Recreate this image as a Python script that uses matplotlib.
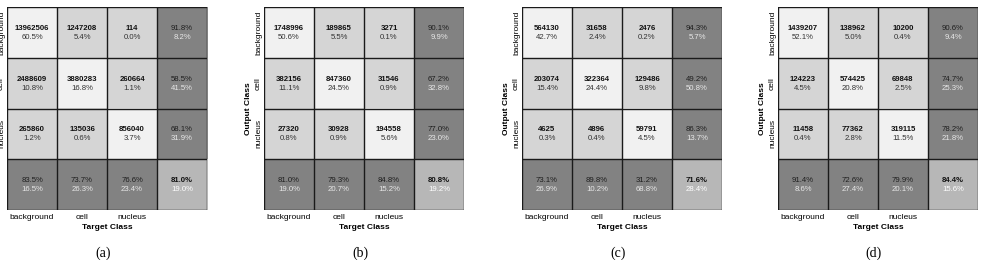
import matplotlib
matplotlib.use("Agg")
import matplotlib.pyplot as plt
import numpy as np

classes = ["background", "cell", "nucleus"]
captions = ["(a)", "(b)", "(c)", "(d)"]

counts_a = [[13962506, 1247208, 114], [2488609, 3880283, 260664], [265860, 135036, 856040]]
counts_b = [[1748996, 189865, 3271], [382156, 847360, 31546], [27320, 30928, 194558]]
counts_c = [[564130, 31658, 2476], [203074, 322364, 129486], [4625, 4896, 59791]]
counts_d = [[1439207, 138962, 10200], [124223, 574425, 69848], [11458, 77362, 319115]]

pct_a = [[60.5, 5.4, 0.0], [10.8, 16.8, 1.1], [1.2, 0.6, 3.7]]
pct_b = [[50.6, 5.5, 0.1], [11.1, 24.5, 0.9], [0.8, 0.9, 5.6]]
pct_c = [[42.7, 2.4, 0.2], [15.4, 24.4, 9.8], [0.3, 0.4, 4.5]]
pct_d = [[52.1, 5.0, 0.4], [4.5, 20.8, 2.5], [0.4, 2.8, 11.5]]

row_acc_a = [91.8, 58.5, 68.1]
row_acc_b = [90.1, 67.2, 77.0]
row_acc_c = [94.3, 49.2, 86.3]
row_acc_d = [90.6, 74.7, 78.2]

col_acc_a = [83.5, 73.7, 76.6]
col_acc_b = [81.0, 79.3, 84.8]
col_acc_c = [73.1, 89.8, 31.2]
col_acc_d = [91.4, 72.6, 79.9]

overall = [81.0, 80.8, 71.6, 84.4]

panels = [
    (counts_a, pct_a, row_acc_a, col_acc_a),
    (counts_b, pct_b, row_acc_b, col_acc_b),
    (counts_c, pct_c, row_acc_c, col_acc_c),
    (counts_d, pct_d, row_acc_d, col_acc_d),
]

W, H = 982, 260
grid_lefts = [7, 264, 522, 778]
grid_w = 200
grid_top, grid_bottom = 7, 210

DIAG = "#f1f1f1"
OFF = "#d5d5d5"
SUM = "#828282"
CORNER = "#b7b7b7"

plt.rcParams["font.family"] = ["Liberation Sans", "DejaVu Sans"]

fig = plt.figure(figsize=(W / 100, H / 100), dpi=100)


def draw_panel(ax, counts, pct, row_acc, col_acc, total, caption):
    n = len(counts)
    m = n + 1
    img = np.zeros((m, m, 3))
    for i in range(m):
        for j in range(m):
            if i == n and j == n:
                c = CORNER
            elif i == n or j == n:
                c = SUM
            elif i == j:
                c = DIAG
            else:
                c = OFF
            img[i, j] = matplotlib.colors.to_rgb(c)
    ax.imshow(img, extent=(0, m, m, 0), interpolation="nearest", aspect="auto")
    for k in range(m + 1):
        ax.axhline(k, color="#1a1a1a", lw=1.0)
        ax.axvline(k, color="#1a1a1a", lw=1.0)

    fs = 5.6
    for i in range(n):
        for j in range(n):
            ax.text(j + 0.5, i + 0.42, str(counts[i][j]), ha="center", va="center",
                    fontsize=fs, fontweight="bold", color="#111111")
            ax.text(j + 0.5, i + 0.6, f"{pct[i][j]:.1f}%", ha="center", va="center",
                    fontsize=fs, color="#333333")
    for i in range(n):
        ax.text(n + 0.5, i + 0.42, f"{row_acc[i]:.1f}%", ha="center", va="center",
                fontsize=fs, color="#1e1e1e")
        ax.text(n + 0.5, i + 0.6, f"{100 - row_acc[i]:.1f}%", ha="center", va="center",
                fontsize=fs, color="#e8e8e8")
    for j in range(n):
        ax.text(j + 0.5, n + 0.42, f"{col_acc[j]:.1f}%", ha="center", va="center",
                fontsize=fs, color="#1e1e1e")
        ax.text(j + 0.5, n + 0.6, f"{100 - col_acc[j]:.1f}%", ha="center", va="center",
                fontsize=fs, color="#e8e8e8")
    ax.text(n + 0.5, n + 0.42, f"{total:.1f}%", ha="center", va="center",
            fontsize=fs, fontweight="bold", color="#111111")
    ax.text(n + 0.5, n + 0.6, f"{100 - total:.1f}%", ha="center", va="center",
            fontsize=fs, color="#ffffff")

    ax.set_xlim(0, m)
    ax.set_ylim(m, 0)
    ax.set_xticks(np.arange(n) + 0.5)
    ax.set_xticklabels(classes, fontsize=6)
    ax.set_yticks(np.arange(n) + 0.5)
    ax.set_yticklabels(classes, fontsize=6, rotation=90, va="center")
    ax.tick_params(axis="x", length=0, pad=3)
    ax.tick_params(axis="y", length=0, pad=1.5)
    for s in ax.spines.values():
        s.set_visible(False)
    ax.set_xlabel("Target Class", fontsize=6, fontweight="bold", labelpad=2)
    ax.set_ylabel("Output Class", fontsize=6, fontweight="bold", labelpad=2)
    ax.text(0.48, -0.215, caption, transform=ax.transAxes, ha="center", va="center",
            fontsize=10, family="Liberation Serif")


for k, (counts, pct, row_acc, col_acc) in enumerate(panels):
    left = grid_lefts[k] / W
    bottom = 1 - grid_bottom / H
    height = (grid_bottom - grid_top) / H
    ax = fig.add_axes([left, bottom, grid_w / W, height])
    draw_panel(ax, counts, pct, row_acc, col_acc, overall[k], captions[k])

fig.savefig("out.png", dpi=100)
